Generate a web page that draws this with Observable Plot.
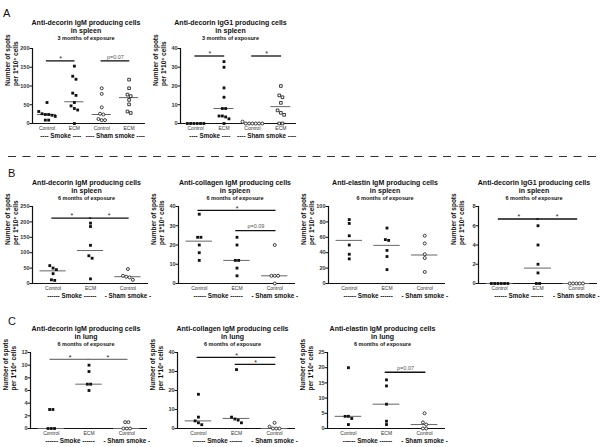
<!DOCTYPE html>
<html>
<head>
<meta charset="utf-8">
<script src="https://cdn.jsdelivr.net/npm/d3@7"></script>
<script src="https://cdn.jsdelivr.net/npm/@observablehq/plot@0.6"></script>
<style>
  html, body { margin: 0; padding: 0; background: #fff; }
  #root { position: relative; width: 600px; height: 447px; overflow: hidden; font-family: "Liberation Sans", Arial, sans-serif; }
  #root svg { overflow: visible; }
  g[aria-label="y-axis tick label"] text { font-weight: bold; fill: #333; }
  g[aria-label="title"] text { letter-spacing: 0.35px; }
  g[aria-label="subtitle"] text { letter-spacing: 0.15px; }
</style>
</head>
<body>
<div id="root"></div>
<script>
// ---------------- DATA ----------------
const catsA = ["Control", "ECM", "Control", "ECM"];
const catsBC = ["Control", "ECM", "Control"];
const groupsA = [{label: "---- Smoke ----", first: 0, last: 1}, {label: "---- Sham smoke ----", first: 2, last: 3}];
const groupsBC = [{label: "------ Smoke ------", first: 0, last: 1}, {label: "- Sham smoke -", first: 2, last: 2}];
const openA = [false, false, true, true];
const symbolA = ["square", "square", "circle", "square"];
const openBC = [false, false, true];
const symbolBC = ["square", "square", "circle"];
const yLabel = ["Number of spots", "per 1*10\u2076 cells"];

// A1: Anti-decorin IgM, spleen, 3 months
const a1Title = ["Anti-decorin IgM producing cells", "in spleen", "3 months of exposure"];
const a1Values = [[56, 32, 26, 24, 24, 22, 19, 9, 9], [153, 126, 118, 81, 75, 56, 47, 40, 36, 0], [94, 79, 43, 26, 24, 12, 9, 9], [117, 94, 77, 73, 63, 51, 32, 28]];
const a1Medians = [24, 58, 24, 69];
const a1Ticks = [0, 50, 100, 150, 200];
const a1Bars = [{from: 0, to: 1, y: 167, label: "*"}, {from: 2, to: 3, y: 167, label: "p=0.07"}];

// A2: Anti-decorin IgG1, spleen, 3 months
const a2Title = ["Anti-decorin IgG1 producing cells", "in spleen", "3 months of exposure"];
const a2Values = [[0, 0, 0, 0, 0, 0], [33, 30, 19, 14, 8, 8, 4, 4, 3.5, 2.5, 0], [1, 0, 0, 0, 0, 0, 0], [20, 15, 14, 11, 7, 5.7, 4.6, 0, 0]];
const a2Medians = [0, 8, 0, 9];
const a2Ticks = [0, 10, 20, 30, 40];
const a2Bars = [{from: 0, to: 1, y: 36, label: "*"}, {from: 2, to: 3, y: 36, label: "*"}];

// B1: Anti-decorin IgM, spleen, 6 months
const b1Title = ["Anti-decorin IgM producing cells", "in spleen", "6 months of exposure"];
const b1Values = [[58, 50, 45, 32, 12, 10], [196, 185, 124, 90, 82, 15], [47, 25, 22, 20, 12]];
const b1Medians = [41, 107, 22];
const b1Ticks = [0, 50, 100, 150, 200, 250];
const b1Bars = [{from: 0, to: 1, y: 212, label: "*"}, {from: 1, to: 2, y: 212, label: "*"}];

// B2: Anti-collagen IgM, spleen, 6 months
const b2Title = ["Anti-collagen IgM producing cells", "in spleen", "6 months of exposure"];
const b2Values = [[36, 24, 24, 20, 16, 12], [24, 20, 12, 12, 8, 4], [20, 4, 4, 4, 0]];
const b2Medians = [22, 12, 4];
const b2Ticks = [0, 10, 20, 30, 40];
const b2Bars = [{from: 0, to: 2, y: 38, label: "*"}, {from: 1, to: 2, y: 27.5, label: "p=0.09"}];

// B3: Anti-elastin IgM, spleen, 6 months
const b3Title = ["Anti-elastin IgM producing cells", "in spleen", "6 months of exposure"];
const b3Values = [[83, 78, 62, 50, 38, 32], [72, 57, 56, 43, 35, 18], [62, 52, 38, 33, 15]];
const b3Medians = [56, 49.5, 37];
const b3Ticks = [0, 20, 40, 60, 80, 100];
const b3Bars = [];

// B4: Anti-decorin IgG1, spleen, 6 months
const b4Title = ["Anti-decorin IgG1 producing cells", "in spleen", "6 months of exposure"];
const b4Values = [[0, 0, 0, 0, 0, 0], [6, 4, 2, 1.1, 0, 0], [0, 0, 0, 0, 0]];
const b4Medians = [0, 1.6, 0];
const b4Ticks = [0, 2, 4, 6, 8];
const b4Bars = [{from: 0, to: 1, y: 6.7, label: "*"}, {from: 1, to: 2, y: 6.7, label: "*"}];

// C1: Anti-decorin IgM, lung, 6 months
const c1Title = ["Anti-decorin IgM producing cells", "in lung", "6 months of exposure"];
const c1Values = [[3, 3, 0, 0, 0], [10, 9, 7, 7, 6], [1, 1, 0, 0, 0]];
const c1Medians = [0, 7, 0];
const c1Ticks = [0, 2, 4, 6, 8, 10, 12];
const c1Bars = [{from: 0, to: 1, y: 10.9, label: "*"}, {from: 1, to: 2, y: 10.9, label: "*"}];

// C2: Anti-collagen IgM, lung, 6 months
const c2Title = ["Anti-collagen IgM producing cells", "in lung", "6 months of exposure"];
const c2Values = [[18, 6, 4, 3, 2], [31, 6, 5, 4.4, 3], [3, 1, 0, 0, 0]];
const c2Medians = [4, 5.3, 0];
const c2Ticks = [0, 10, 20, 30, 40];
const c2Bars = [{from: 0, to: 2, y: 37.4, label: "*"}, {from: 1, to: 2, y: 33.8, label: "*"}];

// C3: Anti-elastin IgM, lung, 6 months
const c3Title = ["Anti-elastin IgM producing cells", "in lung", "6 months of exposure"];
const c3Values = [[20, 4, 4, 3.3, 1.3], [16, 14, 8, 2.4, 1.3], [5, 2, 1.3, 0, 0]];
const c3Medians = [4, 8, 1.3];
const c3Ticks = [0, 5, 10, 15, 20, 25];
const c3Bars = [{from: 1, to: 2, y: 18.5, label: "p=0.07"}];

// ---------------- LAYOUT ----------------
const rowA = {top: 0, h: 145, topY: 48, botY: 123, titleDy: [-28, -20.5, -12.8]};
const rowB = {top: 160, h: 140, topY: 206, botY: 283, titleDy: [-26, -18, -10]};
const rowC = {top: 305, h: 142, topY: 352, botY: 428, titleDy: [-26, -18, -10]};
const domA1 = [-0.53, 3.6], domA2 = [-0.53, 3.55], domBC = [-0.55, 2.55];

const panels = [
  {row: rowA, left: 0, w: 150, axisX: 32, endX: 145, xDom: domA1, titleDx: -3, title: a1Title, values: a1Values, medians: a1Medians, ticks: a1Ticks, bars: a1Bars, cats: catsA, groups: groupsA, open: openA, symbol: symbolA},
  {row: rowA, left: 150, w: 150, axisX: 180, endX: 296, xDom: domA2, titleDx: -8, title: a2Title, values: a2Values, medians: a2Medians, ticks: a2Ticks, bars: a2Bars, cats: catsA, groups: groupsA, open: openA, symbol: symbolA},
  {row: rowB, left: 0, w: 150, axisX: 32, endX: 148, xDom: domBC, titleDx: -4, title: b1Title, values: b1Values, medians: b1Medians, ticks: b1Ticks, bars: b1Bars, cats: catsBC, groups: groupsBC, open: openBC, symbol: symbolBC},
  {row: rowB, left: 150, w: 150, axisX: 178, endX: 295, xDom: domBC, titleDx: -2, title: b2Title, values: b2Values, medians: b2Medians, ticks: b2Ticks, bars: b2Bars, cats: catsBC, groups: groupsBC, open: openBC, symbol: symbolBC},
  {row: rowB, left: 300, w: 150, axisX: 328, endX: 445, xDom: domBC, titleDx: -2, title: b3Title, values: b3Values, medians: b3Medians, ticks: b3Ticks, bars: b3Bars, cats: catsBC, groups: groupsBC, open: openBC, symbol: symbolBC},
  {row: rowB, left: 450, w: 150, axisX: 478, endX: 597, xDom: domBC, titleDx: -4, title: b4Title, values: b4Values, medians: b4Medians, ticks: b4Ticks, bars: b4Bars, cats: catsBC, groups: groupsBC, open: openBC, symbol: symbolBC},
  {row: rowC, left: 0, w: 150, axisX: 30, endX: 147, xDom: domBC, titleDx: -3, title: c1Title, values: c1Values, medians: c1Medians, ticks: c1Ticks, bars: c1Bars, cats: catsBC, groups: groupsBC, open: openBC, symbol: symbolBC, barColor: "#777"},
  {row: rowC, left: 150, w: 150, axisX: 177, endX: 295, xDom: domBC, titleDx: -4, title: c2Title, values: c2Values, medians: c2Medians, ticks: c2Ticks, bars: c2Bars, cats: catsBC, groups: groupsBC, open: openBC, symbol: symbolBC},
  {row: rowC, left: 300, w: 150, axisX: 327, endX: 445, xDom: domBC, titleDx: -4, title: c3Title, values: c3Values, medians: c3Medians, ticks: c3Ticks, bars: c3Bars, cats: catsBC, groups: groupsBC, open: openBC, symbol: symbolBC}
];

function jitterPoints(p) {
  const ymax = p.ticks[p.ticks.length - 1];
  const pxPerUnit = (p.row.botY - p.row.topY) / ymax;
  const stepPx = (p.endX - p.axisX) / (p.xDom[1] - p.xDom[0]);
  const sp = 3.3 / stepPx;
  const out = [];
  p.values.forEach((arr, g) => {
    const sorted = arr.slice().sort((a, b) => b - a);
    const clusters = [];
    let cur = [];
    sorted.forEach(v => {
      if (cur.length && (cur[cur.length - 1] - v) * pxPerUnit > 3.2) { clusters.push(cur); cur = []; }
      cur.push(v);
    });
    if (cur.length) clusters.push(cur);
    clusters.forEach(c => c.forEach((v, k) => out.push({g, v, off: (k - (c.length - 1) / 2) * sp})));
  });
  return out;
}

function makePanel(p) {
  const r = p.row;
  const ymax = p.ticks[p.ticks.length - 1];
  const pts = jitterPoints(p);
  const filled = pts.filter(d => !p.open[d.g]);
  const openPts = pts.filter(d => p.open[d.g]);
  const barColor = p.barColor || "#111";
  const plot = Plot.plot({
    width: p.w,
    height: r.h,
    marginLeft: p.axisX - p.left,
    marginRight: p.left + p.w - p.endX,
    marginTop: r.topY - r.top,
    marginBottom: r.top + r.h - r.botY,
    x: {domain: p.xDom, axis: null},
    y: {domain: [0, ymax], axis: null},
    style: {fontFamily: "'Liberation Sans', Arial, sans-serif", fontSize: "6px", background: "transparent", color: "#111"},
    marks: [
      Plot.axisY({ticks: p.ticks, tickSize: 2.5, tickPadding: 0.5, fontSize: 5.5, label: null, tickFormat: d => String(d)}),
      Plot.ruleX([p.xDom[0]], {stroke: "#111", strokeWidth: 1.2}),
      Plot.ruleY([0], {stroke: "#111", strokeWidth: 1.2}),
      Plot.ruleY(p.medians, {y: d => d, x1: (d, i) => i - 0.35, x2: (d, i) => i + 0.35, stroke: "#666", strokeWidth: 1}),
      Plot.dot(filled, {x: d => d.g + d.off, y: "v", symbol: d => p.symbol[d.g], r: 1.6, fill: "#111", stroke: "none"}),
      Plot.dot(openPts, {x: d => d.g + d.off, y: "v", symbol: d => p.symbol[d.g], r: 1.5, fill: "white", stroke: "#111", strokeWidth: 0.8}),
      Plot.ruleY(p.bars, {y: "y", x1: d => d.from - 0.06, x2: d => d.to + 0.06, insetLeft: 1, insetRight: 1, stroke: barColor, strokeWidth: 1.3}),
      Plot.text(p.bars.filter(d => d.label === "*"), {x: d => (d.from + d.to) / 2, y: "y", text: "label", dy: -2, fontSize: 7, fill: "#222"}),
      Plot.text(p.bars.filter(d => d.label !== "*"), {x: d => (d.from + d.to) / 2, y: "y", text: "label", dy: -4, fontSize: 5.5, fill: "#555"}),
      Plot.text(p.cats, {x: (d, i) => i, text: d => d, frameAnchor: "bottom", dy: 6, fontSize: 5, fill: "#333"}),
      Plot.text(p.groups, {x: d => (d.first + d.last) / 2, text: d => d.label, frameAnchor: "bottom", dy: 14.5, fontSize: 6.3, fontWeight: "bold", fill: "#111"}),
      Plot.text([p.title[0]], {ariaLabel: "title", text: d => d, frameAnchor: "top", dx: p.titleDx, dy: r.titleDy[0], fontSize: 7, fontWeight: "bold", fill: "#111"}),
      Plot.text([p.title[1]], {ariaLabel: "title", text: d => d, frameAnchor: "top", dx: p.titleDx, dy: r.titleDy[1], fontSize: 7, fontWeight: "bold", fill: "#111"}),
      Plot.text([p.title[2]], {ariaLabel: "subtitle", text: d => d, frameAnchor: "top", dx: p.titleDx, dy: r.titleDy[2], fontSize: 5.5, fontWeight: "bold", fill: "#111"}),
      Plot.text([yLabel[0]], {text: d => d, frameAnchor: "left", rotate: -90, dx: -24.5, fontSize: 6.5, fontWeight: "bold", fill: "#111"}),
      Plot.text([yLabel[1]], {text: d => d, frameAnchor: "left", rotate: -90, dx: -17, fontSize: 6.5, fontWeight: "bold", fill: "#111"})
    ]
  });
  plot.style.position = "absolute";
  plot.style.left = p.left + "px";
  plot.style.top = r.top + "px";
  return plot;
}

const root = document.getElementById("root");
panels.forEach(p => root.appendChild(makePanel(p)));

// section letters and dashed separator
const sectionLetters = [{t: "A", x: 3, y: 17}, {t: "B", x: 8, y: 177}, {t: "C", x: 8, y: 325}];
const ns = "http://www.w3.org/2000/svg";
const deco = document.createElementNS(ns, "svg");
deco.setAttribute("width", 600); deco.setAttribute("height", 447);
deco.style.position = "absolute"; deco.style.left = "0px"; deco.style.top = "0px"; deco.style.pointerEvents = "none";
const sep = document.createElementNS(ns, "line");
sep.setAttribute("x1", 8); sep.setAttribute("x2", 600); sep.setAttribute("y1", 156.5); sep.setAttribute("y2", 156.5);
sep.setAttribute("stroke", "#333"); sep.setAttribute("stroke-width", 1); sep.setAttribute("stroke-dasharray", "8 6.5");
deco.appendChild(sep);
sectionLetters.forEach(s => {
  const t = document.createElementNS(ns, "text");
  t.setAttribute("x", s.x); t.setAttribute("y", s.y);
  t.setAttribute("font-family", "'Liberation Sans', Arial, sans-serif");
  t.setAttribute("font-size", 11); t.setAttribute("fill", "#111");
  t.textContent = s.t;
  deco.appendChild(t);
});
root.appendChild(deco);
</script>
</body>
</html>
